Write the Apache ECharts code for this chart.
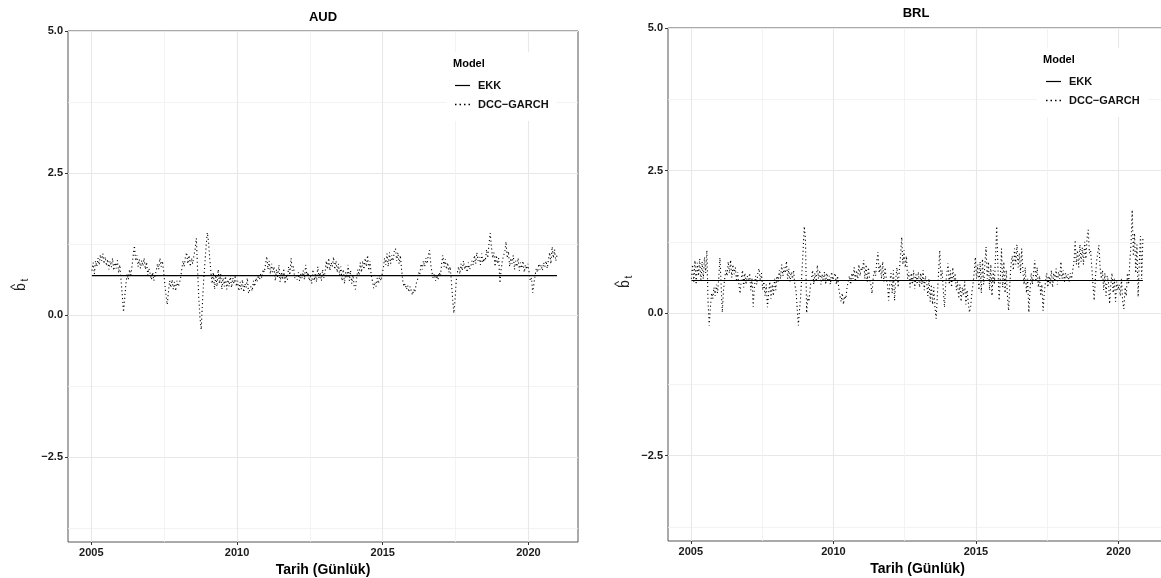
<!DOCTYPE html>
<html>
<head>
<meta charset="utf-8">
<script src="https://cdn.jsdelivr.net/npm/echarts@6/dist/echarts.min.js"></script>
<style>
html,body{margin:0;padding:0;background:#fff;}
#chart{width:1161px;height:578px;}
</style>
</head>
<body>
<div id="chart"></div>
<script>
// ---------- DATA ----------
const panels = ['AUD', 'BRL'];
const seriesNames = ['EKK', 'DCC\u2212GARCH'];
const startYear = 2005;
const stepsPerYear = 24; // semi-monthly readings
const xTickLabels = [2005, 2010, 2015, 2020];
const xMinorTicks = [2007.5, 2012.5, 2017.5];
const yTickLabels = [-2.5, 0, 2.5, 5];
const yMinorTicks = [-3.75, -1.25, 1.25, 3.75];
const xAxisTitle = 'Tarih (Günlük)';

const audEKK = 0.69;
const brlEKK = 0.57;

const audDCC = [
  0.78,0.92,0.72,0.95,0.85,1.0,0.88,1.06,0.95,1.08,0.9,1.02,0.86,0.98,0.8,0.95,0.84,1.0,0.78,0.92,0.82,0.96,0.74,0.88,
  0.6,0.35,0.05,0.3,0.55,0.72,0.62,0.8,0.7,0.85,1.05,1.22,0.95,1.05,0.85,0.98,0.82,0.96,0.86,1.0,0.8,0.93,0.7,0.82,
  0.72,0.62,0.75,0.6,0.7,0.78,0.9,0.8,1.0,0.85,0.95,0.78,0.55,0.35,0.18,0.4,0.6,0.48,0.62,0.45,0.58,0.42,0.6,0.5,
  0.55,0.65,0.8,0.95,0.85,1.02,1.1,0.9,1.05,0.85,1.0,0.9,1.05,1.15,1.35,0.8,0.3,-0.05,-0.26,0.2,0.6,0.9,1.2,1.45,
  1.3,1.0,0.75,0.55,0.75,0.45,0.7,0.5,0.8,0.55,0.72,0.45,0.65,0.5,0.68,0.45,0.62,0.5,0.7,0.48,0.65,0.55,0.7,0.5,
  0.6,0.42,0.58,0.45,0.62,0.4,0.55,0.48,0.65,0.38,0.35,0.5,0.42,0.6,0.5,0.65,0.58,0.7,0.62,0.72,0.65,0.8,0.75,0.9,
  1.03,0.8,0.95,0.72,0.9,0.75,0.85,0.6,0.8,0.65,0.88,0.58,0.75,0.62,0.82,0.55,0.7,0.62,0.85,0.7,1.0,0.78,0.85,0.65,
  0.7,0.62,0.75,0.6,0.72,0.65,0.78,0.62,0.88,0.7,0.75,0.6,0.68,0.55,0.8,0.6,0.72,0.58,0.85,0.65,0.75,0.6,0.8,0.65,
  0.75,0.95,0.8,1.0,0.78,0.92,0.85,1.02,0.8,0.95,0.75,0.9,0.7,0.85,0.6,0.8,0.55,0.75,0.65,0.88,0.6,0.78,0.55,0.7,
  0.5,0.45,0.65,0.8,0.7,0.92,0.75,0.95,0.8,1.0,0.85,1.05,0.78,0.95,0.7,0.6,0.47,0.58,0.5,0.65,0.55,0.7,0.6,0.72,
  0.82,1.0,0.88,1.08,0.85,1.1,0.9,1.05,0.95,1.12,1.17,0.95,1.1,0.9,1.05,0.8,0.6,0.5,0.55,0.45,0.52,0.4,0.5,0.42,
  0.35,0.45,0.4,0.55,0.6,0.75,0.7,0.9,0.8,0.95,0.85,1.0,0.9,1.05,1.14,0.9,0.75,0.65,0.72,0.6,0.7,0.62,0.75,0.68,
  0.9,1.05,0.85,0.98,0.8,0.92,0.75,0.85,0.6,0.3,0.03,0.25,0.6,0.75,0.85,0.72,0.9,0.78,0.95,0.8,0.88,0.75,0.92,0.8,
  0.85,0.95,0.88,1.05,0.9,1.1,0.95,1.02,0.88,1.08,0.92,1.0,0.95,1.15,1.0,1.25,1.44,1.2,1.0,1.1,0.85,1.05,0.9,1.0,
  0.56,0.8,0.95,1.05,1.1,1.29,1.0,1.12,0.85,1.0,0.9,1.05,0.8,0.95,0.85,1.0,0.78,0.92,0.82,0.95,0.75,0.88,0.8,0.9,
  0.75,0.6,0.65,0.39,0.55,0.7,0.82,0.75,0.9,0.8,0.88,0.78,0.92,0.85,0.95,0.82,0.98,1.1,0.9,1.2,1.0,1.15,0.95,1.05
];

const brlDCC = [
  0.6,0.85,0.55,0.92,0.5,0.88,0.65,0.95,0.55,0.9,0.6,0.98,0.7,1.1,0.2,-0.22,0.1,0.35,0.25,0.45,0.3,0.5,0.35,0.6,
  0.97,0.5,0.01,0.4,0.6,0.75,0.65,0.9,0.7,0.93,0.62,0.85,0.68,0.8,0.55,0.72,0.5,0.34,0.6,0.75,0.45,0.7,0.5,0.65,
  0.55,0.7,0.4,0.6,0.11,0.45,0.65,0.5,0.72,0.78,0.55,0.7,0.4,0.55,0.3,0.5,0.1,0.35,0.55,0.25,0.5,0.3,0.6,0.4,
  0.65,0.55,0.75,0.6,0.85,0.65,0.8,0.7,0.91,0.6,0.78,0.55,0.72,0.6,0.75,0.5,0.4,0.1,-0.22,0.05,0.3,0.7,1.1,1.52,
  1.3,0.0,0.3,0.2,0.45,0.6,0.75,0.5,0.7,0.55,0.84,0.6,0.75,0.5,0.68,0.55,0.72,0.5,0.7,0.55,0.65,0.5,0.72,0.58,
  0.6,0.7,0.5,0.65,0.45,0.3,0.2,0.35,0.15,0.3,0.25,0.45,0.55,0.65,0.5,0.7,0.6,0.8,0.55,0.75,0.6,0.85,0.65,0.8,
  0.75,0.93,0.6,0.85,0.55,0.8,0.6,0.5,0.34,0.6,0.75,0.65,0.9,1.07,0.7,0.85,0.6,0.9,0.55,0.8,0.6,0.5,0.22,0.55,
  0.7,0.35,0.75,0.22,0.6,0.8,0.45,0.75,1.0,1.33,0.85,1.1,0.8,1.0,0.6,0.72,0.45,0.7,0.5,0.75,0.42,0.68,0.5,0.72,
  0.45,0.7,0.5,0.75,0.4,0.65,0.55,0.3,0.6,0.2,0.5,0.15,0.45,0.1,-0.1,0.3,0.7,1.1,0.6,0.75,0.4,0.1,0.5,0.7,
  0.87,0.5,0.75,0.45,0.8,0.55,0.7,0.4,0.55,0.25,0.5,0.2,0.45,0.3,0.55,0.15,0.4,0.2,0.01,0.1,0.35,0.5,0.7,0.98,
  0.6,0.85,0.4,0.9,0.35,0.95,0.5,0.85,1.16,0.6,0.9,0.4,0.85,0.3,0.75,0.5,1.0,1.52,0.8,0.22,0.6,1.13,0.45,0.9,
  0.35,0.75,0.3,0.04,0.5,0.85,1.0,0.75,1.13,0.85,1.2,0.8,1.05,0.7,1.13,0.75,0.5,0.8,0.35,0.6,0.01,0.4,0.7,0.5,
  0.7,0.93,0.55,0.8,0.45,0.65,0.3,0.5,0.04,0.35,0.55,0.7,0.45,0.65,0.5,0.75,0.45,0.7,0.55,0.78,0.5,0.72,0.6,0.9,
  0.6,0.75,0.55,0.7,0.6,0.68,0.55,0.7,0.6,0.75,0.9,1.28,0.85,1.1,0.8,1.2,0.9,1.15,0.85,1.25,0.95,1.3,1.46,1.05,
  1.1,0.8,0.5,0.22,0.6,0.9,1.05,1.19,0.8,0.6,0.75,0.4,0.7,0.3,0.65,0.55,0.16,0.5,0.7,0.35,0.6,0.2,0.55,0.4,
  0.5,0.3,0.6,0.2,0.07,0.45,0.3,0.7,0.5,0.9,1.2,1.81,1.0,1.4,0.7,1.2,0.28,0.9,1.35,0.6,1.3
];

// ---------- BUILD ----------
const FONT = '"Liberation Sans", Arial, Helvetica, sans-serif';
const xMin = 2004.2, xMax = 2021.7, yMin = -4, yMax = 5;

function toPairs(vals) {
  return vals.map((v, i) => [startYear + (i + 0.5) / stepsPerYear, v]);
}
function constLine(vals, level) {
  return vals.map((v, i) => [startYear + (i + 0.5) / stepsPerYear, level]);
}
const dccData = [toPairs(audDCC), toPairs(brlDCC)];
const ekkData = [constLine(audDCC, audEKK), constLine(brlDCC, brlEKK)];

const grids = [
  { left: 68, top: 31, width: 510, height: 511 },
  { left: 668, top: 28, width: 499, height: 513 }
];

const xAxes = [], yAxes = [], series = [];
grids.forEach((g, gi) => {
  xAxes.push({
    type: 'value', gridIndex: gi, min: xMin, max: xMax, position: 'bottom',
    axisLine: { show: false, onZero: false },
    axisTick: { show: true, customValues: xTickLabels, length: 3, lineStyle: { color: '#333', width: 1 } },
    axisLabel: { customValues: xTickLabels, formatter: v => String(v), fontFamily: FONT, fontWeight: 'bold', fontSize: 11, color: '#1a1a1a', margin: 5 },
    splitLine: { show: true, lineStyle: { color: '#e8e8e8', width: 1.1 } },
    name: xAxisTitle, nameLocation: 'middle', nameGap: 17,
    nameTextStyle: { fontFamily: FONT, fontWeight: 'bold', fontSize: 14, color: '#000' }
  });
  xAxes.push({
    type: 'value', gridIndex: gi, min: xMin, max: xMax, position: 'top',
    axisLine: { show: false, onZero: false },
    axisTick: { show: false, customValues: xMinorTicks },
    axisLabel: { show: false, customValues: xMinorTicks },
    splitLine: { show: true, lineStyle: { color: '#f0f0f0', width: 0.8 } }
  });
  yAxes.push({
    type: 'value', gridIndex: gi, min: yMin, max: yMax, position: 'left',
    axisLine: { show: false, onZero: false },
    axisTick: { show: true, customValues: yTickLabels, length: 3, lineStyle: { color: '#333', width: 1 } },
    axisLabel: { customValues: yTickLabels, formatter: v => v.toFixed(1).replace('-', '\u2212'), fontFamily: FONT, fontWeight: 'bold', fontSize: 11, color: '#1a1a1a', margin: 5 },
    splitLine: { show: true, lineStyle: { color: '#e8e8e8', width: 1.1 } }
  });
  yAxes.push({
    type: 'value', gridIndex: gi, min: yMin, max: yMax, position: 'right',
    axisLine: { show: false, onZero: false },
    axisTick: { show: false, customValues: yMinorTicks },
    axisLabel: { show: false, customValues: yMinorTicks },
    splitLine: { show: true, lineStyle: { color: '#f0f0f0', width: 0.8 } }
  });
  series.push({
    name: seriesNames[1], type: 'line', xAxisIndex: gi * 2, yAxisIndex: gi * 2,
    data: dccData[gi], symbol: 'none', showSymbol: false, silent: true, animation: false,
    itemStyle: { color: '#000' },
    lineStyle: { color: '#000', width: 1.1, type: [1.1, 2.8] }, z: 3
  });
  series.push({
    name: seriesNames[0], type: 'line', xAxisIndex: gi * 2, yAxisIndex: gi * 2,
    data: ekkData[gi], symbol: 'none', showSymbol: false, silent: true, animation: false,
    itemStyle: { color: '#000' },
    lineStyle: { color: '#000', width: 1.2, type: 'solid' }, z: 4
  });
});

const legendIcons = [
  'path://M0,0H15V1.2H0Z',
  'path://M0,0h1.5v1.5h-1.5z M4.5,0h1.5v1.5h-1.5z M9,0h1.5v1.5h-1.5z M13.5,0h1.5v1.5h-1.5z'
];
const legendBoxes = [ { left: 446, top: 52 }, { left: 1037, top: 48 } ];
const legends = legendBoxes.map(b => ({
  data: seriesNames.map((n, i) => ({ name: n, icon: legendIcons[i] })),
  orient: 'vertical', left: b.left, top: b.top,
  padding: [28, 8, 11, 9], itemGap: 8, itemWidth: 15, itemHeight: 12,
  symbolKeepAspect: true,
  itemStyle: { color: '#000', borderWidth: 0 },
  backgroundColor: '#fff', selectedMode: false, z: 5,
  textStyle: { fontFamily: FONT, fontWeight: 'bold', fontSize: 11, color: '#111', padding: [0, 0, 0, 3] }
}));

function txt(text, x, y, font, color, align) {
  return { type: 'text', x: x, y: y, z: 100, silent: true,
    style: { text: text, font: font, fill: color || '#000', textAlign: align || 'center', textVerticalAlign: 'middle', align: align || 'center', verticalAlign: 'middle' } };
}
function yName(cx, cy) {
  const st = (t, f) => ({ text: t, font: f, fill: '#222', textAlign: 'center', textVerticalAlign: 'middle', align: 'center', verticalAlign: 'middle' });
  return { type: 'group', x: cx, y: cy, rotation: Math.PI / 2, z: 100, silent: true,
    children: [
      { type: 'text', x: 0, y: 0, style: st('b', '14px ' + FONT) },
      { type: 'text', x: 0, y: -6, style: st('^', '13px ' + FONT) },
      { type: 'text', x: 7, y: 4, style: st('t', '10px ' + FONT) }
    ] };
}

const graphics = [
  txt(panels[0], 323, 17, 'bold 13px ' + FONT),
  txt(panels[1], 916, 13, 'bold 13px ' + FONT),
  txt('Model', 453, 64, 'bold 11px ' + FONT, '#000', 'left'),
  txt('Model', 1043, 60, 'bold 11px ' + FONT, '#000', 'left'),
  yName(21, 287),
  yName(625, 284)
];

const chart = echarts.init(document.getElementById('chart'), null, { renderer: 'canvas' });
chart.setOption({
  animation: false,
  backgroundColor: '#fff',
  grid: grids.map(g => Object.assign({ show: true, borderColor: '#555', borderWidth: 1, backgroundColor: '#fff', containLabel: false, outerBoundsMode: 'none' }, g)),
  xAxis: xAxes,
  yAxis: yAxes,
  legend: legends,
  graphic: graphics,
  series: series
});
</script>
</body>
</html>
